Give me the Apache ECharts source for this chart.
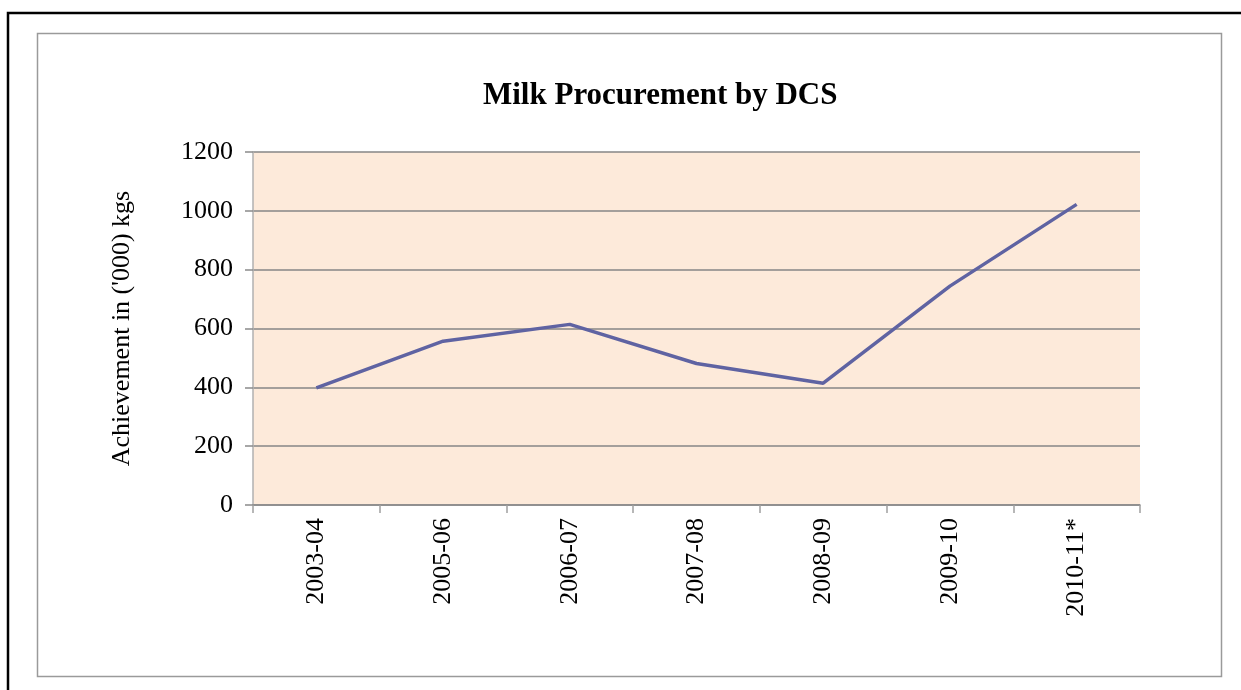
<!DOCTYPE html>
<html>
<head>
<meta charset="utf-8">
<title>Milk Procurement by DCS</title>
<script src="https://cdn.jsdelivr.net/npm/echarts@6/dist/echarts.min.js"></script>
<style>
  html, body { margin: 0; padding: 0; background: #fff; }
  #main { width: 1241px; height: 690px; }
</style>
</head>
<body>
<div id="main"></div>
<script>
// 数据
var years = ['2003-04', '2005-06', '2006-07', '2007-08', '2008-09', '2009-10', '2010-11*'];
var procurement = [398, 557, 614, 481, 414, 744, 1022];
var yTicks = [0, 200, 400, 600, 800, 1000, 1200];

var myChart = echarts.init(document.getElementById('main'));

var serif = '"Liberation Serif", "DejaVu Serif", serif';

var option = {
    backgroundColor: '#ffffff',
    animation: false,
    title: {
        text: 'Milk Procurement by DCS',
        left: 478,
        top: 75,
        textStyle: {
            fontFamily: serif,
            fontSize: 31,
            fontWeight: 'bold',
            color: '#000'
        }
    },
    graphic: [
        // 外框
        {
            type: 'rect',
            shape: { x: 8, y: 13, width: 1260, height: 700 },
            style: { fill: 'none', stroke: '#000', lineWidth: 2.5 },
            silent: true
        },
        // 图表区边框
        {
            type: 'rect',
            shape: { x: 37.5, y: 33.5, width: 1184, height: 643 },
            style: { fill: 'none', stroke: '#9a9a9a', lineWidth: 1.5 },
            silent: true
        }
    ],
    grid: {
        left: 253,
        right: 101,
        top: 152,
        bottom: 185,
        show: true,
        backgroundColor: '#FDEADA',
        borderWidth: 0,
        borderColor: 'transparent'
    },
    xAxis: {
        type: 'category',
        data: years,
        boundaryGap: true,
        axisLine: { show: true, lineStyle: { color: '#8a8a8a', width: 1.5 } },
        axisTick: { show: true, length: 8, alignWithLabel: false, lineStyle: { color: '#a0a0a0', width: 1.5 } },
        axisLabel: {
            rotate: 90,
            margin: 13,
            fontFamily: serif,
            fontSize: 26,
            color: '#000'
        },
        splitLine: { show: false }
    },
    yAxis: {
        type: 'value',
        min: yTicks[0],
        max: yTicks[yTicks.length - 1],
        interval: 200,
        name: "Achievement in ('000) kgs",
        nameLocation: 'middle',
        nameGap: 118,
        nameRotate: 90,
        nameTextStyle: {
            fontFamily: serif,
            fontSize: 26,
            color: '#000'
        },
        axisLine: { show: true, lineStyle: { color: '#b0b0b0', width: 1.5 } },
        axisTick: { show: true, length: 8, lineStyle: { color: '#8a8a8a', width: 1.5 } },
        axisLabel: {
            margin: 20,
            fontFamily: serif,
            fontSize: 26,
            color: '#000',
            formatter: function (v) { return String(v); }
        },
        splitLine: { show: true, lineStyle: { color: '#868686', width: 1.5 } }
    },
    series: [
        {
            name: 'Milk Procurement',
            type: 'line',
            data: procurement,
            symbol: 'none',
            lineStyle: { color: '#5F63A2', width: 3.5 },
            itemStyle: { color: '#5F63A2' }
        }
    ]
};

myChart.setOption(option);
</script>
</body>
</html>
